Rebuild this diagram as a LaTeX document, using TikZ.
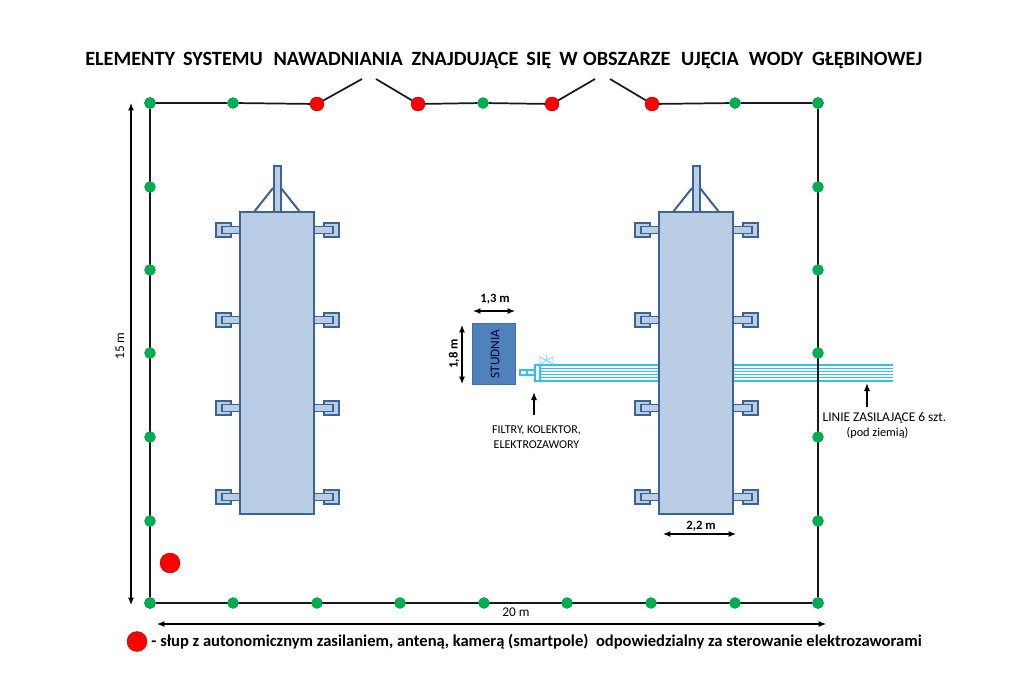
\documentclass[tikz,border=0pt]{standalone}
\usepackage{fontspec}
\setmainfont{Carlito}
\usetikzlibrary{positioning, arrows.meta}

\definecolor{panelfill}{HTML}{B9CDE5}
\definecolor{paneldraw}{HTML}{3A6496}
\definecolor{wellfill}{HTML}{4F81BD}
\definecolor{polegreen}{HTML}{00B050}
\definecolor{pipecyan}{HTML}{33BFEF}

\tikzset{
    greenpole/.style={circle, fill=polegreen, draw=polegreen!80!black, line width=0.3pt, inner sep=0pt, minimum size=8.2pt},
    redpole/.style={circle, fill=red, draw=red!70!black, line width=0.3pt, inner sep=0pt, minimum size=10.5pt},
    bigpole/.style={circle, fill=red, draw=red!70!black, line width=0.3pt, inner sep=0pt, minimum size=15pt},
    fence/.style={line width=1.3pt, black!90},
    panel/.style={draw=paneldraw, fill=panelfill, line width=1.5pt},
    lugouter/.style={draw=paneldraw, fill=panelfill, line width=1.6pt},
    luginner/.style={draw=paneldraw, fill=panelfill, line width=1.2pt},
    dimline/.style={<->, >={Latex[length=5.5pt,width=4.5pt]}, line width=0.9pt},
    pointer/.style={->, >={Latex[length=6pt,width=4.5pt]}, line width=0.9pt},
    pipe/.style={draw=pipecyan, line width=0.9pt},
    notetext/.style={font=\fontsize{9}{11}\selectfont, align=center, inner sep=0pt},
    dimtext/.style={font=\fontsize{9.5}{11}\selectfont\bfseries, inner sep=0pt}
}

\begin{document}
\begin{tikzpicture}[x=0.75pt, y=-0.75pt]
\useasboundingbox (0,0) rectangle (1024,695);

% Title
\node[font=\fontsize{15.2}{17}\selectfont\bfseries, inner sep=0pt, anchor=west] (title) at (85,60)
    {ELEMENTY\hspace{6pt}SYSTEMU\hspace{8pt}NAWADNIANIA\hspace{6.5pt}ZNAJDUJĄCE\hspace{6pt}SIĘ\hspace{6pt}W\hspace{4pt}OBSZARZE\hspace{8pt}UJĘCIA\hspace{7.5pt}WODY\hspace{6.5pt}GŁĘBINOWEJ};

% Pipes behind the panel
\foreach \y [count=\i] in {365,368.2,371.4,374.6,377.8,381}
    \draw[pipe] (540,\y) -- (893,\y);

% Fence corners and gate ends
\coordinate (gateA) at (362,79);
\coordinate (gateB) at (376,79);
\coordinate (gateC) at (595,79);
\coordinate (gateD) at (610,79);

\path[fence] (150,103) node[greenpole] (NW) {}
    (818,103) node[greenpole] (NE) {}
    (150,603) node[greenpole] (SW) {}
    (818,603) node[greenpole] (SE) {};
\draw[fence] (NW) -- (SW) -- (SE) -- (NE);

% Top fence
\node[greenpole] (T1) at (233,103) {};
\node[redpole] (R1) at (317,104) {};
\node[redpole] (R2) at (418,104) {};
\node[greenpole] (T2) at (483,103) {};
\node[redpole] (R3) at (552,104) {};
\node[redpole] (R4) at (652,104) {};
\node[greenpole] (T3) at (735,103) {};
\draw[fence] (NW) -- (T1) -- (R1) -- (gateA);
\draw[fence] (gateB) -- (R2) -- (T2) -- (R3) -- (gateC);
\draw[fence] (gateD) -- (R4) -- (T3) -- (NE);
\node[greenpole] at (150,103) {};
\node[greenpole] at (818,103) {};

% Side and bottom poles
\foreach \y in {187,270,353,437,521} {
    \node[greenpole] (L\y) at (150,\y) {};
    \node[greenpole] (P\y) at (818,\y) {};
}
\foreach \x in {233,317,400,484,567,651,735}
    \node[greenpole] (B\x) at (\x,603) {};
\node[greenpole] at (150,603) {};
\node[greenpole] at (818,603) {};

% Panels
\foreach \x/\name in {240/left, 659/right} {
    \foreach \y in {230,320,408,497} {
        \draw[lugouter] (\x-24,\y-7) rectangle (\x-9,\y+7);
        \draw[luginner] (\x-18,\y-3.5) rectangle (\x,\y+3.5);
        \draw[lugouter] (\x+84,\y-7) rectangle (\x+99,\y+7);
        \draw[luginner] (\x+74,\y-3.5) rectangle (\x+93,\y+3.5);
    }
    \draw[paneldraw, line width=1.5pt] (\x+14,212) -- (\x+33,188);
    \draw[paneldraw, line width=1.5pt] (\x+60,212) -- (\x+41,188);
    \draw[panel] (\x+34,166) rectangle (\x+41,212);
    \draw[panel] (\x,212) rectangle (\x+74,514);
}

% Well
\node[draw=wellfill!85!black, fill=wellfill, line width=0.8pt, minimum width=32.5pt, minimum height=46pt, inner sep=0pt] (well) at (494,354) {};
\node[font=\fontsize{10}{12}\selectfont, text=black!80!blue, rotate=90, inner sep=0pt] at (495,354) {STUDNIA};

% Collector and valve
\draw[pipe, fill=white] (535,365) rectangle (540,381);
\draw[pipe, fill=white] (520,370) rectangle (535,375);
\draw[pipe] (527,370) -- (527,375);
\draw[draw=pipecyan!60, line width=0.7pt] (540,357) -- (553,364) -- (553,357) -- (540,364) -- cycle;
\draw[draw=pipecyan!60, line width=0.7pt] (546.5,360.5) -- (546.5,355);

% Dimensions
\coordinate (dimA) at (473,311);
\coordinate (dimB) at (515,311);
\draw[dimline] (dimA) -- (dimB);
\node[dimtext] at (495,299) {1,3 m};
\coordinate (dimC) at (462,325);
\coordinate (dimD) at (462,384);
\draw[dimline] (dimC) -- (dimD);
\node[dimtext, rotate=90] at (454,354) {1,8 m};
\coordinate (dimE) at (663,534);
\coordinate (dimF) at (736,534);
\draw[dimline] (dimE) -- (dimF);
\node[dimtext] at (701,526) {2,2 m};
\coordinate (dimG) at (131,103);
\coordinate (dimH) at (131,605);
\draw[dimline] (dimG) -- (dimH);
\node[font=\fontsize{10}{11}\selectfont, rotate=90, inner sep=0pt] at (120,346) {15 m};
\coordinate (dimI) at (157,624);
\coordinate (dimJ) at (826,624);
\draw[dimline] (dimI) -- (dimJ);
\node[font=\fontsize{10}{11}\selectfont, inner sep=0pt] at (516,612) {20 m};

% Notes
\node[notetext] (filters) at (536.5,437) {FILTRY, KOLEKTOR,\\ELEKTROZAWORY};
\coordinate (filtersTip) at (534,392);
\coordinate (filtersEnd) at (534,415);
\draw[pointer] (filtersEnd) -- (filtersTip);
\node[notetext, font=\fontsize{10}{11}\selectfont] (lines) at (884.5,425.5) {LINIE ZASILAJĄCE 6 szt.\\{\fontsize{9.2}{11}\selectfont (pod ziemią)}\hspace*{10.5pt}};
\coordinate (linesTip) at (867,383);
\coordinate (linesEnd) at (867,407);
\draw[pointer] (linesEnd) -- (linesTip);

% Legend
\node[bigpole] (smartpole) at (170,563) {};
\node[bigpole] (legendpole) at (137,641.5) {};
\node[font=\fontsize{12.4}{14}\selectfont\bfseries, inner sep=0pt, anchor=west, right=3pt of legendpole] (legend)
    {- słup z autonomicznym zasilaniem, anteną, kamerą (smartpole)\ \ odpowiedzialny za sterowanie elektrozaworami};

\end{tikzpicture}
\end{document}
